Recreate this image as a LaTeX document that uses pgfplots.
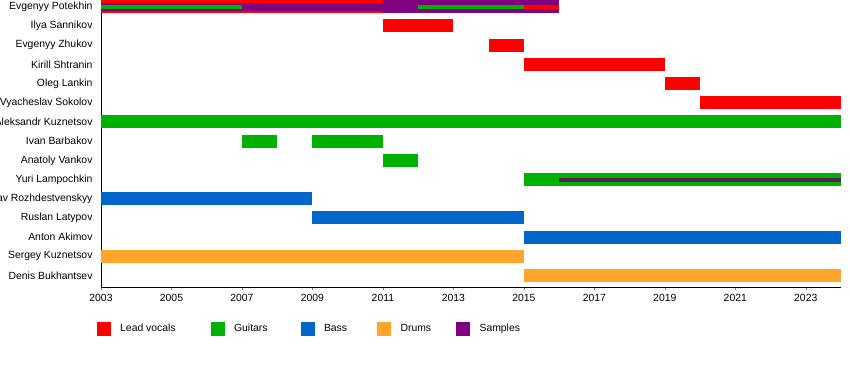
\documentclass[border=0pt]{standalone}
\usepackage{pgfplots}
\pgfplotsset{compat=1.18}
\usepackage{fontspec}
\setmainfont{Liberation Sans}
\definecolor{cVoc}{RGB}{255,0,0}
\definecolor{cGtr}{RGB}{0,178,0}
\definecolor{cBas}{RGB}{0,102,204}
\definecolor{cDrm}{RGB}{255,165,44}
\definecolor{cSmp}{RGB}{128,0,128}
\definecolor{cSmpD}{RGB}{90,30,90}
\pgfplotsset{
  full/.style={forget plot, line width=13pt, draw=#1},
  mid/.style={forget plot, line width=8pt, draw=#1},
  thin/.style={forget plot, line width=4pt, draw=#1},
}
\begin{document}
\begin{tikzpicture}
\begin{axis}[
  scale only axis, width=740pt, height=291.84pt,
  xmin=2003, xmax=2024, ymin=-0.6, ymax=14.6,
  axis lines=left, axis line style={-, black},
  xtick={2003,2005,...,2023}, minor x tick num=1,
  x tick label style={/pgf/number format/1000 sep={}, yshift=-1pt},
  /pgf/number format/assume math mode=true,
  ytick={0,...,14},
  yticklabels={Denis Bukhantsev, Sergey Kuznetsov, Anton Akimov, Ruslan Latypov, Vyacheslav Rozhdestvenskyy, Yuri Lampochkin, Anatoly Vankov, Ivan Barbakov, Aleksandr Kuznetsov, Vyacheslav Sokolov, Oleg Lankin, Kirill Shtranin, Evgenyy Zhukov, Ilya Sannikov, Evgenyy Potekhin},
  y tick label style={xshift=-2pt},
  y tick style={draw=none},
  tick align=outside, major tick length=3pt, minor tick length=3pt,
  tick label style={font=\fontsize{10.4}{12}\selectfont},
  legend style={at={(axis description cs:-0.01,-0.143)}, anchor=west, draw=none, fill=none,
    legend columns=-1, font=\fontsize{10.4}{12}\selectfont,
    /tikz/every odd column/.append style={column sep=8pt},
    /tikz/every even column/.append style={column sep=26pt}},
  legend cell align=left,
]
\addlegendimage{legend image code/.code={\fill[cVoc] (0pt,-6.5pt) rectangle (13pt,6.5pt);}}
\addlegendentry{Lead vocals\rule{7pt}{0pt}}
\addlegendimage{legend image code/.code={\fill[cGtr] (0pt,-6.5pt) rectangle (13pt,6.5pt);}}
\addlegendentry{Guitars\rule{5pt}{0pt}}
\addlegendimage{legend image code/.code={\fill[cBas] (0pt,-6.5pt) rectangle (13pt,6.5pt);}}
\addlegendentry{Bass\rule{2pt}{0pt}}
\addlegendimage{legend image code/.code={\fill[cDrm] (0pt,-6.5pt) rectangle (13pt,6.5pt);}}
\addlegendentry{Drums\hspace*{-3pt}}
\addlegendimage{legend image code/.code={\fill[cSmp] (0pt,-6.5pt) rectangle (13pt,6.5pt);}}
\addlegendentry{Samples}
% Evgenyy Potekhin
\addplot[full=cVoc] coordinates {(2003,14) (2011,14)};
\addplot[full=cSmp] coordinates {(2011,14) (2016,14)};
\addplot[mid=cSmp] coordinates {(2003,14) (2011,14)};
\addplot[thin=cGtr] coordinates {(2003,14) (2007,14)};
\addplot[thin=cGtr] coordinates {(2012,14) (2015,14)};
\addplot[thin=cVoc] coordinates {(2015,14) (2016,14)};
% Ilya Sannikov
\addplot[full=cVoc] coordinates {(2011,13) (2013,13)};
% Evgenyy Zhukov
\addplot[full=cVoc] coordinates {(2014,12) (2015,12)};
% Kirill Shtranin
\addplot[full=cVoc] coordinates {(2015,11) (2019,11)};
% Oleg Lankin
\addplot[full=cVoc] coordinates {(2019,10) (2020,10)};
% Vyacheslav Sokolov
\addplot[full=cVoc] coordinates {(2020,9) (2024,9)};
% Aleksandr Kuznetsov
\addplot[full=cGtr] coordinates {(2003,8) (2024,8)};
% Ivan Barbakov
\addplot[full=cGtr] coordinates {(2007,7) (2008,7)};
\addplot[full=cGtr] coordinates {(2009,7) (2011,7)};
% Anatoly Vankov
\addplot[full=cGtr] coordinates {(2011,6) (2012,6)};
% Yuri Lampochkin
\addplot[full=cGtr] coordinates {(2015,5) (2024,5)};
\addplot[thin=cSmpD] coordinates {(2016,5) (2024,5)};
% Vyacheslav Rozhdestvenskyy
\addplot[full=cBas] coordinates {(2003,4) (2009,4)};
% Ruslan Latypov
\addplot[full=cBas] coordinates {(2009,3) (2015,3)};
% Anton Akimov
\addplot[full=cBas] coordinates {(2015,2) (2024,2)};
% Sergey Kuznetsov
\addplot[full=cDrm] coordinates {(2003,1) (2015,1)};
% Denis Bukhantsev
\addplot[full=cDrm] coordinates {(2015,0) (2024,0)};
\end{axis}
\pgfresetboundingbox
\path[use as bounding box] ([xshift=-101pt,yshift=-83pt]current axis.south west) rectangle ([xshift=9pt,yshift=-4.8pt]current axis.north east);
\end{tikzpicture}
\end{document}
